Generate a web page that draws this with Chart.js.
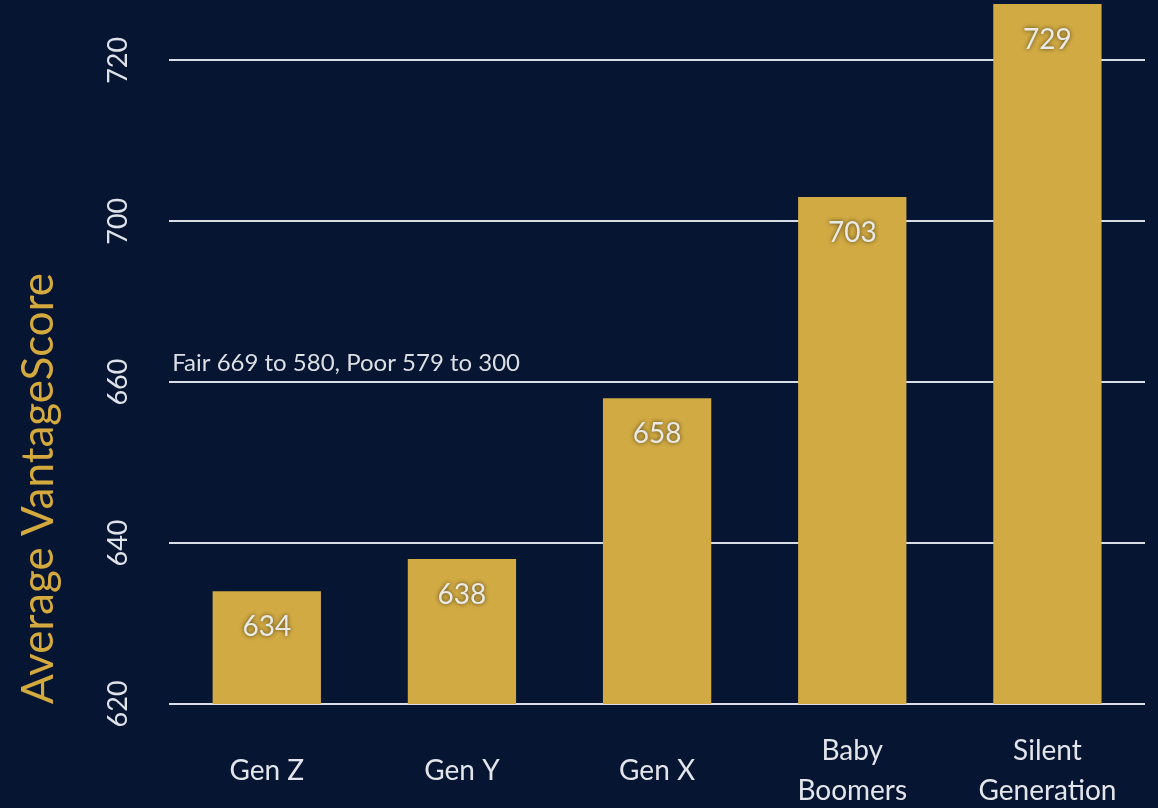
<!DOCTYPE html>
<html>
<head>
<meta charset="utf-8">
<script src="https://cdn.jsdelivr.net/npm/chart.js@4/dist/chart.umd.min.js"></script>
<style>
  html, body { margin: 0; padding: 0; background: #061532; }
  #wrap { width: 1158px; height: 808px; }
</style>
</head>
<body>
<div id="wrap"><canvas id="score"></canvas></div>
<script>
'use strict';

const categories = ["Gen Z", "Gen Y", "Gen X", ["Baby", "Boomers"], ["Silent", "Generation"]];
const scores = [634, 638, 658, 703, 729];
const yTicks = [620, 640, 660, 700, 720];
const note = "Fair 669 to 580, Poor 579 to 300";

// the original axis skips from 660 straight to 700 in one grid step
const breakFrom = 660, breakTo = 700, breakKeep = 20;

class BrokenScale extends Chart.LinearScale {
  squash(v) {
    if (v <= breakFrom) return v;
    if (v >= breakTo) return v - (breakTo - breakFrom) + breakKeep;
    return breakFrom + (v - breakFrom) * breakKeep / (breakTo - breakFrom);
  }
  unsquash(s) {
    if (s <= breakFrom) return s;
    if (s >= breakFrom + breakKeep) return s + (breakTo - breakFrom) - breakKeep;
    return breakFrom + (s - breakFrom) * (breakTo - breakFrom) / breakKeep;
  }
  getPixelForValue(value) {
    const lo = this.squash(this.min), hi = this.squash(this.max);
    return this.getPixelForDecimal((this.squash(value) - lo) / (hi - lo));
  }
  getValueForPixel(pixel) {
    const lo = this.squash(this.min), hi = this.squash(this.max);
    return this.unsquash(lo + this.getDecimalForPixel(pixel) * (hi - lo));
  }
  buildTicks() {
    return yTicks.map(v => ({ value: v }));
  }
  // rotated labels: don't reserve room above/below the plot
  getPadding() {
    const p = super.getPadding();
    return { left: p.left, right: p.right, top: 0, bottom: 0 };
  }
}
BrokenScale.id = 'broken';
Chart.register(BrokenScale);

const valueLabels = {
  id: 'valueLabels',
  afterDatasetsDraw(chart) {
    const ctx = chart.ctx;
    const area = chart.chartArea;
    const meta = chart.getDatasetMeta(0);
    ctx.save();
    ctx.font = '28px Lato';
    ctx.textAlign = 'center';
    ctx.textBaseline = 'middle';
    ctx.fillStyle = '#e9e9e6';
    ctx.shadowColor = 'rgba(60, 50, 20, 0.9)';
    ctx.shadowBlur = 4;
    meta.data.forEach((bar, i) => {
      const top = Math.max(bar.y, area.top);
      ctx.fillText(String(scores[i]), bar.x, top + 36);
    });
    ctx.restore();

    // note above the 660 line
    const y = chart.scales.y.getPixelForValue(660);
    ctx.save();
    ctx.font = '24px Lato';
    ctx.fillStyle = '#dcdfe4';
    ctx.textAlign = 'left';
    ctx.textBaseline = 'alphabetic';
    ctx.fillText(note, area.left + 3, y - 11);
    ctx.restore();
  }
};

Chart.defaults.font.family = 'Lato';

new Chart(document.getElementById('score'), {
  type: 'bar',
  data: {
    labels: categories,
    datasets: [{
      data: scores,
      backgroundColor: '#d1aa43',
      borderWidth: 0,
      barPercentage: 0.555,
      categoryPercentage: 1,
      clip: 0
    }]
  },
  options: {
    responsive: true,
    maintainAspectRatio: false,
    animation: false,
    layout: { padding: { top: 4, right: 13, left: 0, bottom: -62 } },
    plugins: {
      legend: { display: false },
      tooltip: { enabled: false }
    },
    scales: {
      x: {
        grid: { display: false },
        border: { display: false },
        ticks: {
          color: '#e3e5ea',
          font: { size: 28, lineHeight: 1.43 },
          padding: 39,
          crossAlign: 'center',
          maxRotation: 0
        }
      },
      y: {
        type: 'broken',
        min: 620,
        max: 727,
        grid: { color: 'rgba(236, 239, 244, 0.92)', lineWidth: 2, drawTicks: false },
        border: { display: false },
        ticks: {
          color: '#dfe2e8',
          font: { size: 27 },
          minRotation: 90,
          maxRotation: 90,
          crossAlign: 'center',
          padding: 27
        },
        title: {
          display: true,
          text: 'Average VantageScore',
          color: '#d4a93e',
          font: { size: 44 },
          align: 'start',
          padding: { top: 12, bottom: 18 }
        }
      }
    }
  },
  plugins: [valueLabels]
});
</script>
</body>
</html>
